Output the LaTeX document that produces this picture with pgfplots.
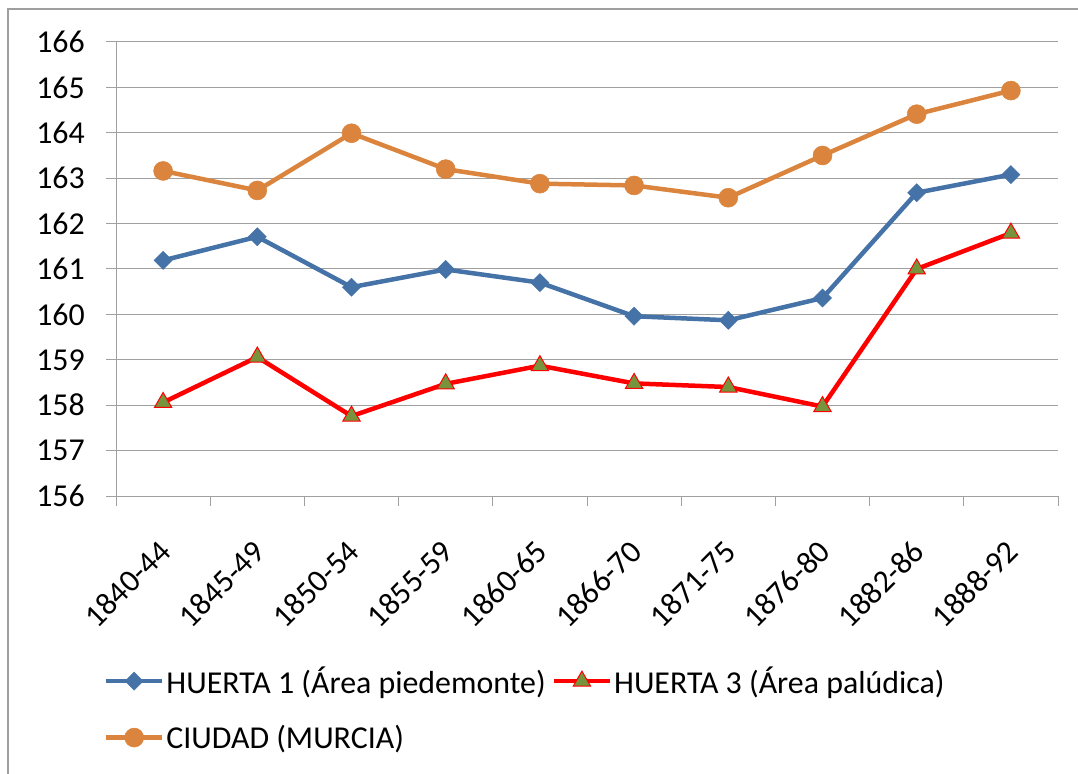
\documentclass[border=0pt]{standalone}
\usepackage{pgfplots}
\pgfplotsset{compat=1.18}
\usepackage{fontspec}
\setmainfont{Carlito}
\definecolor{cblue}{RGB}{69,114,167}
\definecolor{corange}{RGB}{219,132,61}
\definecolor{cgreen}{RGB}{119,147,60}
\definecolor{cgrid}{RGB}{160,160,160}
\begin{document}
\begin{tikzpicture}
\useasboundingbox (0,0) rectangle (1078bp,774bp);
\draw[gray!75, line width=1.5bp] (8bp,0) -- (8bp,765bp) -- (1078bp,765bp);
\begin{axis}[
  at={(116bp,278bp)}, anchor=south west,
  scale only axis, width=942bp, height=454bp,
  xmin=-0.5, xmax=9.5, ymin=156, ymax=166,
  ytick={156,...,166},
  xtick={0,...,9},
  xticklabels={1840-44,1845-49,1850-54,1855-59,1860-65,1866-70,1871-75,1876-80,1882-86,1888-92},
  minor xtick={-0.5,0.5,...,9.5},
  axis lines*=left,
  axis line style={cgrid, line width=1bp},
  ymajorgrids, grid style={cgrid, line width=1bp},
  tick align=outside,
  major tick length=10bp, minor tick length=10bp,
  major x tick style={draw=none},
  every tick/.style={cgrid, line width=1bp},
  tick label style={font=\fontsize{32}{38}\selectfont, text=black},
  /pgf/number format/assume math mode=true,
  yticklabel style={inner sep=0pt, xshift=-21bp},
  xticklabel style={xshift=2bp, yshift=-40bp, rotate=45, anchor=east, inner sep=0pt},
  clip=false,
  legend style={draw=none, fill=none, at={(-0.013,-0.372)}, anchor=north west,
    font=\fontsize{32}{38}\selectfont, inner sep=0pt, row sep=26bp,
    cells={anchor=west},
    /tikz/every even column/.append style={column sep=4bp}},
  legend columns=2,
  legend image code/.code={\draw[mark repeat=2,mark phase=2] plot coordinates {(0bp,0bp) (28bp,0bp) (56bp,0bp)};},
]
\addplot[color=cblue, line width=4.5bp, mark=square*, mark options={rotate=45, line width=0.5bp, fill=cblue}, mark size=6.4bp]
 coordinates {(0,161.19) (1,161.71) (2,160.6) (3,160.99) (4,160.7) (5,159.96) (6,159.87) (7,160.36) (8,162.68) (9,163.08)};
\addlegendentry{HUERTA 1 (Área piedemonte)}
\addplot[color=red, line width=4.5bp, mark=triangle*, mark options={draw=red, fill=cgreen, line width=1bp}, mark size=10bp]
 coordinates {(0,158.06) (1,159.06) (2,157.76) (3,158.47) (4,158.87) (5,158.48) (6,158.4) (7,157.97) (8,161.0) (9,161.79)};
\addlegendentry{HUERTA 3 (Área palúdica)}
\addplot[color=corange, line width=4.5bp, mark=*, mark options={line width=0.5bp, fill=corange}, mark size=9.5bp]
 coordinates {(0,163.16) (1,162.73) (2,163.99) (3,163.2) (4,162.88) (5,162.84) (6,162.57) (7,163.5) (8,164.41) (9,164.93)};
\addlegendentry{CIUDAD (MURCIA)}
\end{axis}
\end{tikzpicture}
\end{document}
